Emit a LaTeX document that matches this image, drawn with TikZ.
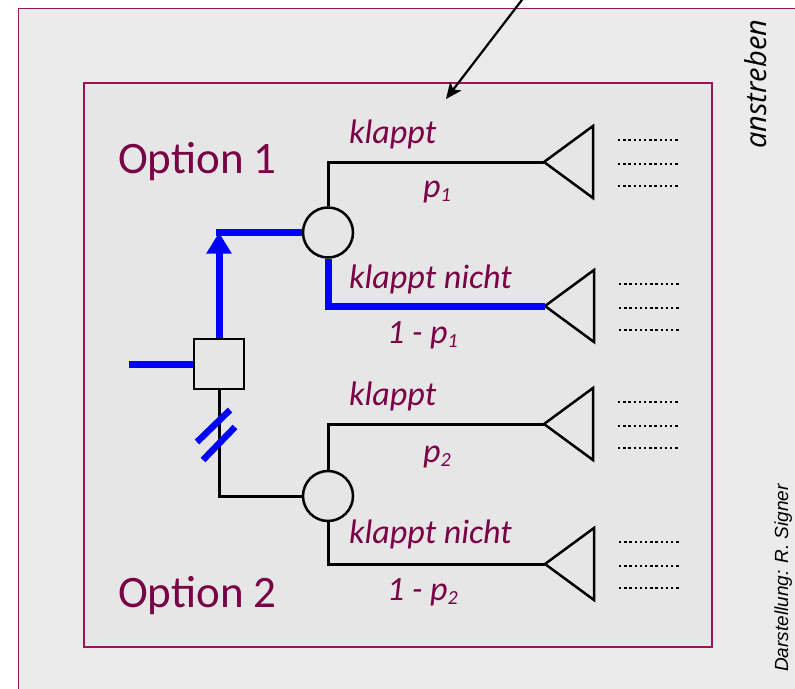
\documentclass[tikz,border=0pt]{standalone}
\usepackage{fontspec}
\setmainfont{Carlito}
\newfontfamily\annofont{Open Sans}
\newfontfamily\creditfont{Liberation Sans}
\usetikzlibrary{arrows.meta,positioning}
\definecolor{wine}{RGB}{122,0,70}
\definecolor{framecol}{RGB}{150,20,90}
\definecolor{paneout}{RGB}{235,235,235}
\definecolor{panein}{RGB}{230,230,230}
\newcommand{\idx}[1]{\raisebox{-0.25ex}{\fontsize{20}{20}\selectfont #1}}

\begin{document}
\begin{tikzpicture}[x=1pt, y=-1pt,
  optlabel/.style={text=wine, font=\fontsize{45}{50}\selectfont, inner sep=0pt, anchor=base west},
  lbl/.style={text=wine, font=\fontsize{34}{38}\selectfont\itshape, inner sep=0pt, anchor=base west},
  decbox/.style={draw, line width=2.5pt, minimum size=50pt, inner sep=0pt, fill=panein},
  chance/.style={draw, circle, line width=2.5pt, minimum size=50pt, inner sep=0pt, fill=panein},
  branch/.style={line width=3pt},
  chosen/.style={blue, line width=7pt},
  cutmark/.style={blue, line width=6.5pt},
  endtri/.style={line width=2.5pt, line join=miter},
  dots/.style={line width=2.5pt, dash pattern=on 2.4pt off 2.8pt},
  pointer/.style={line width=2.2pt, -{Stealth[length=16pt,width=14pt,inset=4pt]}},
]
\useasboundingbox (0,0) rectangle (795,688);
\clip (0,0) rectangle (795,688);

% frames
\draw[framecol, line width=1.3pt, fill=paneout] (18.5,8.5) rectangle (830,720);
\draw[framecol, line width=1.3pt, fill=panein] (84,83) rectangle (712,647);

% nodes of the tree
\node[decbox] (dec) at (219,364) {};
\node[chance] (c1) at (328,232.5) {};
\node[chance] (c2) at (328,496) {};
\coordinate (in) at (129,364);
\coordinate (k1) at (219,232.5);
\coordinate (t1) at (544,162);
\coordinate (t2) at (545,306);
\coordinate (t3) at (544,424);
\coordinate (t4) at (545,564);

% outcomes
\foreach \t in {t1,t2,t3,t4} {
  \draw[endtri] (\t) -- ++(49,-36) -- ++(0,72) -- cycle;
  \foreach \dy in {-22,2,24}
    \draw[dots] ([shift={(74,\dy)}]\t) -- ++(62,0);
}

% branches
\draw[branch] (c1.north) |- (t1);
\draw[branch] (dec.south) |- (c2.west);
\draw[branch] (c2.north) |- (t3);
\draw[branch] (c2.south) |- (t4);

% chosen path
\draw[chosen] (in) -- (dec.west);
\draw[chosen, -{Triangle[length=21pt,width=24pt]}] (dec.north) -- (k1);
\draw[chosen] ([xshift=-3.5pt]k1) -- (c1.west);
\draw[chosen] (c1.south) |- (t2);
\draw[cutmark] (197,442) -- (230,410);
\draw[cutmark] (203,460) -- (235,427);

% labels
\node[optlabel] (opt1) at (118,173) {Option 1};
\node[optlabel] (opt2) at (118,607) {Option 2};
\node[lbl] (w1) at (349,143) {klappt};
\node[lbl] (p1) at (423,197) {p\idx{1}};
\node[lbl] (f1) at (349,288) {klappt nicht};
\node[lbl] (q1) at (387,343) {1 - p\idx{1}};
\node[lbl] (w2) at (349,405) {klappt};
\node[lbl] (p2) at (423,462) {p\idx{2}};
\node[lbl] (f2) at (349,543) {klappt nicht};
\node[lbl] (q2) at (387,600) {1 - p\idx{2}};

\node[rotate=90, anchor=base west, inner sep=0pt, font=\annofont\itshape\fontsize{29}{31}\selectfont] (goal) at (766,149) {anstreben};
\node[rotate=90, anchor=base west, inner sep=0pt, font=\creditfont\itshape\fontsize{19}{21}\selectfont] (credit) at (788,672) {Darstellung: R. Signer};

\coordinate (src) at (528,-8);
\coordinate (aim) at (446,99);
\draw[pointer] (src) -- (aim);

\end{tikzpicture}
\end{document}
